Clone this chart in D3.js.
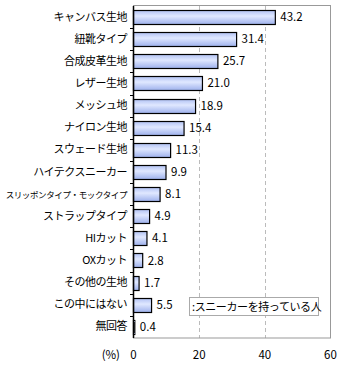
<!DOCTYPE html>
<html><head><meta charset="utf-8">
<script src="https://cdn.jsdelivr.net/npm/d3@7"></script>
<style>body{margin:0;background:#fff}svg{display:block}text{font-family:"Noto Sans CJK JP",sans-serif}</style>
</head><body>
<script>
const categories = ["キャンバス生地","紐靴タイプ","合成皮革生地","レザー生地","メッシュ地","ナイロン生地","スウェード生地","ハイテクスニーカー","スリッポンタイプ・モックタイプ","ストラップタイプ","HIカット","OXカット","その他の生地","この中にはない","無回答"];
const values = [43.2,31.4,25.7,21.0,18.9,15.4,11.3,9.9,8.1,4.9,4.1,2.8,1.7,5.5,0.4];
const xTicks = [0,20,40,60];
const legendLabel = ":スニーカーを持っている人";

const W=340,H=369;
const svg=d3.select("body").append("svg").attr("width",W).attr("height",H);
const defs=svg.append("defs");
const g=defs.append("linearGradient").attr("id","bg").attr("x1",0).attr("y1",0).attr("x2",0).attr("y2",1);
g.append("stop").attr("offset","0%").attr("stop-color","#b2c2f4");
g.append("stop").attr("offset","40%").attr("stop-color","#e0e8ff");
g.append("stop").attr("offset","100%").attr("stop-color","#9db0ec");

const x=d3.scaleLinear().domain([0,60]).range([133.5,330.5]);
const y=d3.scaleBand().domain(categories).range([6,338]).paddingInner(0.36).paddingOuter(0.18);
const yb=d3.scaleBand().domain(categories).range([6,338]);

// grid
svg.selectAll("line.grid").data(xTicks.filter(t=>t>0&&t<60)).enter().append("line")
 .attr("x1",d=>Math.round(x(d))+0.5).attr("x2",d=>Math.round(x(d))+0.5).attr("y1",6).attr("y2",338)
 .attr("stroke","#bbb").attr("stroke-dasharray","4,3");
// frame
svg.append("rect").attr("x",133.5).attr("y",5.5).attr("width",330.5-133.5).attr("height",332.5)
 .attr("fill","none").attr("stroke","#999");

// bars
svg.selectAll("rect.bar").data(values).enter().append("rect")
 .attr("x",x(0)).attr("y",(d,i)=>Math.round(y(categories[i]))+0.5)
 .attr("width",d=>x(d)-x(0)).attr("height",Math.round(y.bandwidth()))
 .attr("fill","url(#bg)").attr("stroke","#000").attr("stroke-width",1.2);

// value labels
svg.selectAll("text.val").data(values).enter().append("text")
 .attr("x",d=>x(d)+5).attr("y",(d,i)=>y(categories[i])+y.bandwidth()/2+4)
 .attr("font-size",11.5).attr("fill","#000").text(d=>d.toFixed(1));

// left axis
svg.append("line").attr("x1",133.5).attr("x2",133.5).attr("y1",6).attr("y2",338).attr("stroke","#000").attr("stroke-width",1.5);
svg.selectAll("line.tk").data(categories.slice(1)).enter().append("line")
 .attr("x1",130).attr("x2",134).attr("y1",d=>Math.round(yb(d))+0.5).attr("y2",d=>Math.round(yb(d))+0.5).attr("stroke","#000");
svg.selectAll("text.cat").data(categories).enter().append("text")
 .attr("x",127).attr("y",d=>yb(d)+yb.bandwidth()/2+3.5).attr("text-anchor","end")
 .attr("font-size",11).attr("fill","#000").attr("letter-spacing",-0.5).text(d=>d)
 .each(function(){
   const w=this.getComputedTextLength();
   if(w>122){
     const fs=Math.floor(11*122/w*10)/10;
     d3.select(this).attr("font-size",fs).attr("letter-spacing",-0.5*fs/11);
   }
 });

// x tick labels
svg.selectAll("text.xt").data(xTicks).enter().append("text")
 .attr("x",d=>x(d)).attr("y",359).attr("text-anchor","middle").attr("font-size",11.5).text(d=>d);
svg.append("text").attr("x",120).attr("y",359).attr("text-anchor","end").attr("font-size",11.5).text("(%)");

// legend
svg.append("rect").attr("x",189.5).attr("y",297.5).attr("width",129).attr("height",18).attr("fill","#fff").attr("stroke","#aaa");
svg.append("text").attr("x",192).attr("y",310.5).attr("font-size",11).attr("letter-spacing",-0.4).text(legendLabel);
</script>
</body></html>
